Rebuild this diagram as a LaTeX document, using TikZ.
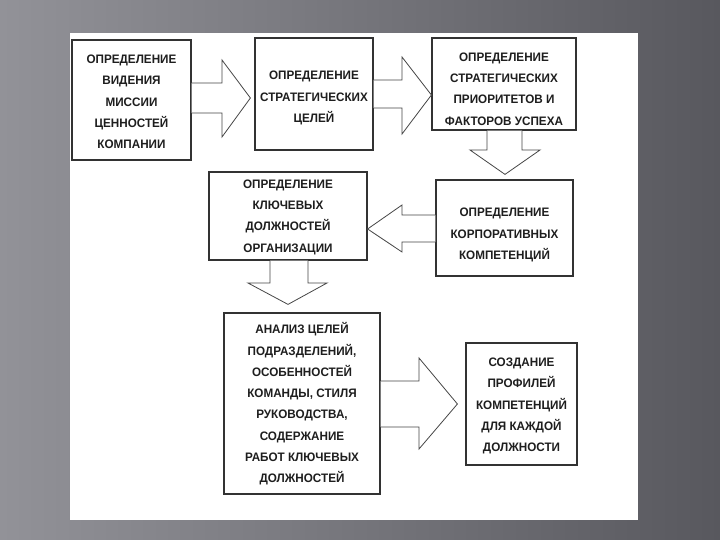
\documentclass[tikz,border=0pt]{standalone}
\usepackage{fontspec}
\setmainfont{Liberation Sans}[FakeStretch=0.95]
\usetikzlibrary{calc}
\definecolor{bgL}{RGB}{146,146,152}
\definecolor{bgR}{RGB}{88,88,94}
\definecolor{ink}{RGB}{30,30,30}
\definecolor{edge}{RGB}{50,50,50}
\definecolor{arr}{RGB}{70,70,70}
\tikzset{
  box/.style={draw=edge, line width=1.2pt, fill=white, rectangle, inner sep=0pt},
  txt/.style={inner sep=0pt, align=center, text=ink, font=\fontsize{12.3}{21.3}\selectfont\bfseries},
  blk/.style={draw=arr, line width=0.8pt, fill=white, line join=miter}
}
\begin{document}
\begin{tikzpicture}[x=1pt,y=-1pt]
\useasboundingbox (0,0) rectangle (720,540);
\shade[left color=bgL, right color=bgR] (0,0) rectangle (720,540);
\fill[white] (70,33) rectangle (638,520);

\node[box, minimum width=119pt, minimum height=120pt] (b1) at (131.5,100) {};
\node[txt] (b1t) at ($(b1)+(0,2)$) {ОПРЕДЕЛЕНИЕ\\ВИДЕНИЯ\\МИССИИ\\ЦЕННОСТЕЙ\\КОМПАНИИ};
\node[box, minimum width=118pt, minimum height=112pt] (b2) at (314,94) {};
\node[txt] (b2t) at ($(b2)+(0,4)$) {ОПРЕДЕЛЕНИЕ\\СТРАТЕГИЧЕСКИХ\\ЦЕЛЕЙ};
\node[box, minimum width=144pt, minimum height=92pt] (b3) at (504,84) {};
\node[txt] (b3t) at ($(b3)+(0,5)$) {ОПРЕДЕЛЕНИЕ\\СТРАТЕГИЧЕСКИХ\\ПРИОРИТЕТОВ И\\ФАКТОРОВ УСПЕХА};
\node[box, minimum width=137pt, minimum height=96pt] (b4) at (504.5,228) {};
\node[txt] (b4t) at ($(b4)+(0,7)$) {ОПРЕДЕЛЕНИЕ\\КОРПОРАТИВНЫХ\\КОМПЕТЕНЦИЙ};
\node[box, minimum width=158pt, minimum height=88pt] (b5) at (288,216) {};
\node[txt] (b5t) at ($(b5)+(0,1)$) {ОПРЕДЕЛЕНИЕ\\КЛЮЧЕВЫХ\\ДОЛЖНОСТЕЙ\\ОРГАНИЗАЦИИ};
\node[box, minimum width=156pt, minimum height=181pt] (b6) at (302,403.5) {};
\node[txt] (b6t) at ($(b6)+(0,0.5)$) {АНАЛИЗ ЦЕЛЕЙ\\ПОДРАЗДЕЛЕНИЙ,\\ОСОБЕННОСТЕЙ\\КОМАНДЫ, СТИЛЯ\\РУКОВОДСТВА,\\СОДЕРЖАНИЕ\\РАБОТ КЛЮЧЕВЫХ\\ДОЛЖНОСТЕЙ};
\node[box, minimum width=111pt, minimum height=122pt] (b7) at (521.5,404) {};
\node[txt] (b7t) at ($(b7)+(0,2)$) {СОЗДАНИЕ\\ПРОФИЛЕЙ\\КОМПЕТЕНЦИЙ\\ДЛЯ КАЖДОЙ\\ДОЛЖНОСТИ};

% b1 -> b2
\coordinate (t1) at ($(b2.west)+(-4,4)$);
\draw[blk] (b1.east |- 0,83) -- (222,83) -- (222,60) -- (t1) -- (222,137) -- (222,113) -- (b1.east |- 0,113);
% b2 -> b3
\coordinate (t2) at (b3.west |- 0,95);
\draw[blk] (b2.east |- 0,80) -- (402,80) -- (402,57) -- (t2) -- (402,134) -- (402,108) -- (b2.east |- 0,108);
% b3 -> b4
\coordinate (t3) at ($(b4.north)+(0.5,-5)$);
\draw[blk] (487,0 |- b3.south) -- (487,150) -- (470,150) -- (t3) -- (540,150) -- (522,150) -- (522,0 |- b3.south);
% b4 -> b5
\coordinate (t4) at (b5.east |- 0,229);
\draw[blk] (b4.west |- 0,215) -- (402,215) -- (402,205) -- (t4) -- (402,252) -- (402,242) -- (b4.west |- 0,242);
% b5 -> b6
\coordinate (t5) at ($(b6.north)+(-14,-8)$);
\draw[blk] (270,0 |- b5.south) -- (270,283) -- (248,283) -- (t5) -- (327,283) -- (308,283) -- (308,0 |- b5.south);
% b6 -> b7
\coordinate (t6) at ($(b7.west)+(-8,0)$);
\draw[blk] (b6.east |- 0,381) -- (419,381) -- (419,358) -- (t6) -- (419,449) -- (419,427) -- (b6.east |- 0,427);
\end{tikzpicture}
\end{document}
